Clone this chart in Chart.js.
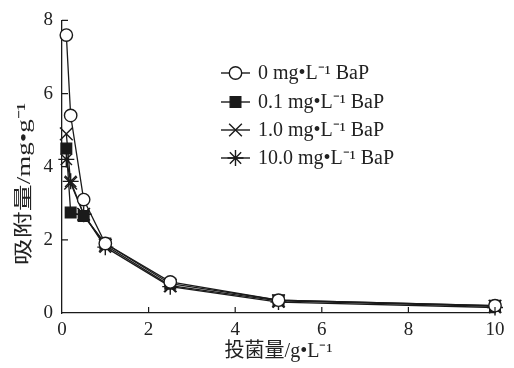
<!DOCTYPE html>
<html>
<head>
<meta charset="utf-8">
<script src="https://cdn.jsdelivr.net/npm/chart.js@4.4.1/dist/chart.umd.min.js"></script>
<style>
  html, body { margin: 0; padding: 0; background: #fff; }
  #wrap { width: 514px; height: 368px; }
</style>
</head>
<body>
<div id="wrap"><canvas id="adsorption"></canvas></div>
<script>
// dose of bacteria (g/L) and adsorbed amount (mg/g) for each BaP level
const dose = [0.1, 0.2, 0.5, 1, 2.5, 5, 10];
const bap0 = [7.6, 5.4, 3.1, 1.9, 0.85, 0.35, 0.2];
const bap01 = [4.5, 2.75, 2.65, 1.9, 0.8, 0.35, 0.2];
const bap1 = [4.9, 3.55, 2.7, 1.85, 0.75, 0.33, 0.18];
const bap10 = [4.2, 3.6, 2.7, 1.8, 0.72, 0.3, 0.15];
const seriesLabels = ['0 mg•L⁻¹ BaP', '0.1 mg•L⁻¹ BaP', '1.0 mg•L⁻¹ BaP', '10.0 mg•L⁻¹ BaP'];
const xTitle = '投菌量/g•L⁻¹';
const yTitle = '吸附量/mg•g⁻¹';

const serif = "'Liberation Serif', 'Noto Sans CJK SC', serif";
Chart.defaults.font.family = serif;
Chart.defaults.color = '#222';

const ink = '#1a1a1a';
const styles = [
    { pointStyle: 'circle', bg: '#fff', r: 6.2 },
    { pointStyle: 'rect', bg: ink, r: 7.5 },
    { pointStyle: 'crossRot', bg: ink, r: 9 },
    { pointStyle: 'star', bg: ink, r: 8 }
];
const values = [bap0, bap01, bap1, bap10];

const datasets = values.map((vals, i) => ({
    label: seriesLabels[i],
    data: dose.map((d, j) => ({ x: d, y: vals[j] })),
    borderColor: ink,
    borderWidth: 1.3,
    backgroundColor: styles[i].bg,
    pointStyle: styles[i].pointStyle,
    pointRadius: styles[i].r,
    pointBorderWidth: 1.4,
    pointBorderColor: ink,
    pointBackgroundColor: styles[i].bg,
    tension: 0,
    clip: false
}));

// small ticks pointing into the plot
const inwardTicks = {
    id: 'inwardTicks',
    afterDatasetsDraw(chart) {
        const { ctx, chartArea: a, scales: { x, y } } = chart;
        ctx.save();
        ctx.strokeStyle = ink;
        ctx.lineWidth = 1.2;
        ctx.beginPath();
        x.ticks.forEach(t => {
            if (t.value === 0) return;
            const px = x.getPixelForValue(t.value);
            ctx.moveTo(px, a.bottom);
            ctx.lineTo(px, a.bottom - 6);
        });
        y.ticks.forEach(t => {
            if (t.value === 0) return;
            const py = y.getPixelForValue(t.value);
            ctx.moveTo(a.left, py);
            ctx.lineTo(a.left + 6, py);
        });
        ctx.stroke();
        ctx.restore();
    }
};

// legend inside the plot area, plus the (tall) y axis title
const innerLegend = {
    id: 'innerLegend',
    afterDraw(chart) {
        const ctx = chart.ctx;
        const rows = [73, 102, 130, 158];
        ctx.save();
        chart.data.datasets.forEach((ds, i) => {
            const y = rows[i];
            ctx.strokeStyle = ink;
            ctx.lineWidth = 1.4;
            ctx.beginPath();
            ctx.moveTo(221, y);
            ctx.lineTo(250, y);
            ctx.stroke();
            ctx.fillStyle = ds.pointBackgroundColor;
            Chart.helpers.drawPoint(ctx, {
                pointStyle: ds.pointStyle,
                radius: ds.pointRadius,
                rotation: 0,
                borderWidth: 1.4
            }, 235.5, y);
            ctx.fillStyle = '#222';
            ctx.font = "20px " + serif;
            ctx.textBaseline = 'middle';
            ctx.fillText(ds.label, 258, y + 1);
        });

        ctx.translate(25, 184);
        ctx.rotate(-Math.PI / 2);
        ctx.scale(1.42, 1);
        ctx.font = "19px " + serif;
        ctx.textAlign = 'center';
        ctx.textBaseline = 'middle';
        ctx.fillStyle = '#222';
        ctx.fillText(yTitle, 0, 0);
        ctx.restore();
    }
};

new Chart(document.getElementById('adsorption'), {
    type: 'line',
    data: { datasets },
    options: {
        responsive: true,
        maintainAspectRatio: false,
        animation: false,
        layout: { padding: { left: 0, right: 19, top: 12, bottom: 0 } },
        plugins: { legend: { display: false }, tooltip: { enabled: false } },
        scales: {
            x: {
                type: 'linear',
                min: 0,
                max: 10,
                ticks: { stepSize: 2, padding: 6, font: { size: 19 }, color: '#222' },
                grid: { display: false, drawTicks: false },
                border: { color: ink, width: 1.3 },
                title: { display: true, text: xTitle, font: { size: 20 }, color: '#222', padding: { top: 6 } },
                afterFit(scale) { scale.height = 55; }
            },
            y: {
                min: 0,
                max: 8,
                ticks: { stepSize: 2, padding: 9, font: { size: 19 }, color: '#222' },
                grid: { display: false, drawTicks: false },
                border: { color: ink, width: 1.3 },
                title: { display: false, text: yTitle },
                afterFit(scale) { scale.width = 62; }
            }
        }
    },
    plugins: [inwardTicks, innerLegend]
});
</script>
</body>
</html>
